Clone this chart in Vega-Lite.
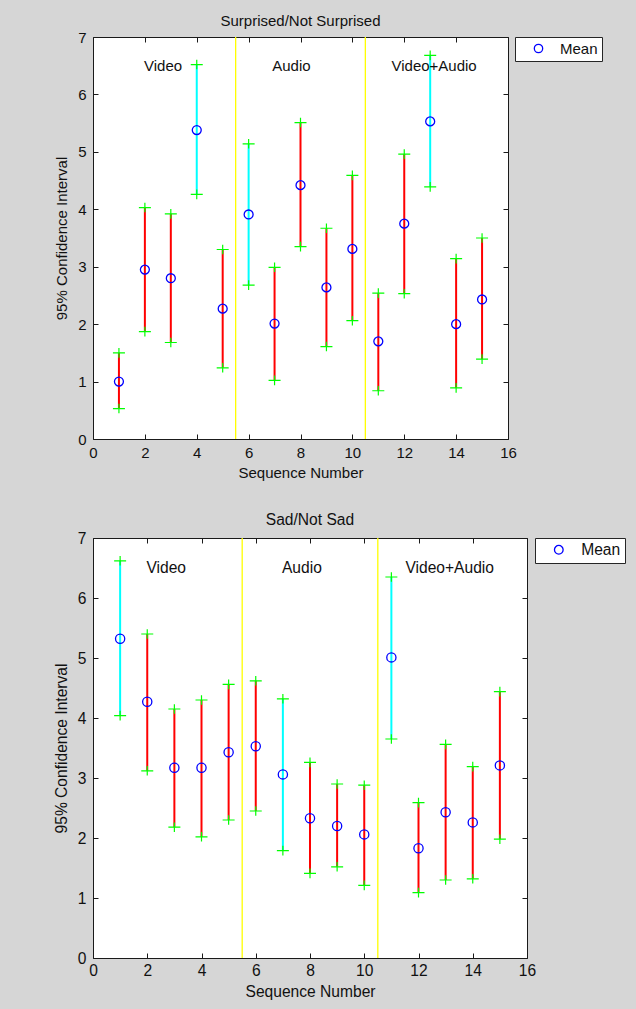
{
  "$schema": "https://vega.github.io/schema/vega-lite/v6.json",
  "background": "#d6d6d6",
  "padding": {"left": 53, "top": 13, "right": 15, "bottom": 20},
  "spacing": 31,
  "config": {
    "font": "Liberation Sans",
    "view": {"fill": "white", "stroke": "#1a1a1a", "strokeWidth": 1},
    "axis": {"labelColor": "#111111", "titleColor": "#111111", "titleFontWeight": "normal", "tickColor": "#1a1a1a", "grid": false},
    "title": {"fontWeight": "normal", "color": "#111111"},
    "legend": {"labelColor": "#111111"}
  },
  "datasets": {
    "surprised": [
      {"seq": 1, "mean": 1.00, "lo": 0.53, "hi": 1.50, "group": "normal"},
      {"seq": 2, "mean": 2.95, "lo": 1.87, "hi": 4.03, "group": "normal"},
      {"seq": 3, "mean": 2.80, "lo": 1.68, "hi": 3.92, "group": "normal"},
      {"seq": 4, "mean": 5.38, "lo": 4.26, "hi": 6.52, "group": "highlighted"},
      {"seq": 5, "mean": 2.27, "lo": 1.24, "hi": 3.30, "group": "normal"},
      {"seq": 6, "mean": 3.91, "lo": 2.68, "hi": 5.14, "group": "highlighted"},
      {"seq": 7, "mean": 2.01, "lo": 1.02, "hi": 2.99, "group": "normal"},
      {"seq": 8, "mean": 4.42, "lo": 3.35, "hi": 5.51, "group": "normal"},
      {"seq": 9, "mean": 2.64, "lo": 1.61, "hi": 3.67, "group": "normal"},
      {"seq": 10, "mean": 3.31, "lo": 2.06, "hi": 4.59, "group": "normal"},
      {"seq": 11, "mean": 1.70, "lo": 0.84, "hi": 2.54, "group": "normal"},
      {"seq": 12, "mean": 3.75, "lo": 2.53, "hi": 4.96, "group": "normal"},
      {"seq": 13, "mean": 5.53, "lo": 4.39, "hi": 6.68, "group": "highlighted"},
      {"seq": 14, "mean": 2.00, "lo": 0.89, "hi": 3.14, "group": "normal"},
      {"seq": 15, "mean": 2.43, "lo": 1.39, "hi": 3.50, "group": "normal"}
    ],
    "sad": [
      {"seq": 1, "mean": 5.32, "lo": 4.04, "hi": 6.62, "group": "highlighted"},
      {"seq": 2, "mean": 4.27, "lo": 3.12, "hi": 5.40, "group": "normal"},
      {"seq": 3, "mean": 3.17, "lo": 2.18, "hi": 4.15, "group": "normal"},
      {"seq": 4, "mean": 3.17, "lo": 2.02, "hi": 4.30, "group": "normal"},
      {"seq": 5, "mean": 3.43, "lo": 2.30, "hi": 4.56, "group": "normal"},
      {"seq": 6, "mean": 3.53, "lo": 2.45, "hi": 4.62, "group": "normal"},
      {"seq": 7, "mean": 3.06, "lo": 1.79, "hi": 4.32, "group": "highlighted"},
      {"seq": 8, "mean": 2.33, "lo": 1.41, "hi": 3.26, "group": "normal"},
      {"seq": 9, "mean": 2.20, "lo": 1.52, "hi": 2.90, "group": "normal"},
      {"seq": 10, "mean": 2.06, "lo": 1.21, "hi": 2.88, "group": "normal"},
      {"seq": 11, "mean": 5.01, "lo": 3.65, "hi": 6.35, "group": "highlighted"},
      {"seq": 12, "mean": 1.83, "lo": 1.09, "hi": 2.59, "group": "normal"},
      {"seq": 13, "mean": 2.43, "lo": 1.30, "hi": 3.56, "group": "normal"},
      {"seq": 14, "mean": 2.26, "lo": 1.32, "hi": 3.19, "group": "normal"},
      {"seq": 15, "mean": 3.21, "lo": 1.98, "hi": 4.44, "group": "normal"}
    ],
    "separators": [{"boundary": 5.5}, {"boundary": 10.5}],
    "labelsTop": [
      {"label": "Video", "xpos": 2.7, "ypos": 6.5},
      {"label": "Audio", "xpos": 7.65, "ypos": 6.5},
      {"label": "Video+Audio", "xpos": 13.15, "ypos": 6.5}
    ],
    "labelsBottom": [
      {"label": "Video", "xpos": 2.7, "ypos": 6.5},
      {"label": "Audio", "xpos": 7.7, "ypos": 6.5},
      {"label": "Video+Audio", "xpos": 13.15, "ypos": 6.5}
    ]
  },
  "resolve": {"scale": {"color": "independent", "stroke": "independent"}, "legend": {"color": "independent"}},
  "vconcat": [
    {
      "width": 415,
      "height": 402,
      "title": {"text": "Surprised/Not Surprised", "fontSize": 15, "offset": 1},
      "resolve": {"axis": {"x": "independent", "y": "independent"}},
      "layer": [
        {
          "data": {"name": "separators"},
          "mark": {"type": "rule", "color": "#ffff00", "strokeWidth": 1.3},
          "encoding": {
            "x": {"field": "boundary", "type": "quantitative", "scale": {"domain": [0, 16], "nice": false, "zero": false},
              "axis": {"orient": "bottom", "values": [0, 2, 4, 6, 8, 10, 12, 14, 16], "ticks": false, "domain": false, "labelPadding": 6.5, "labelFontSize": 15, "labelFlush": false, "labelBound": false, "labelOverlap": false, "title": "Sequence Number", "titleFontSize": 15, "titlePadding": 4.5}}
          }
        },
        {
          "data": {"name": "surprised"},
          "mark": {"type": "rule", "strokeWidth": 2},
          "encoding": {
            "x": {"field": "seq", "type": "quantitative", "scale": {"domain": [0, 16], "nice": false, "zero": false},
              "axis": {"orient": "top", "values": [0, 2, 4, 6, 8, 10, 12, 14, 16], "labels": false, "domain": false, "tickSize": -5, "title": null}},
            "y": {"field": "lo", "type": "quantitative", "scale": {"domain": [0, 7], "nice": false},
              "axis": {"orient": "left", "values": [0, 1, 2, 3, 4, 5, 6, 7], "ticks": false, "domain": false, "labelPadding": 7, "labelFontSize": 15, "title": "95% Confidence Interval", "titleFontSize": 15, "titlePadding": 8}},
            "y2": {"field": "hi"},
            "stroke": {"field": "group", "type": "nominal", "scale": {"domain": ["normal", "highlighted"], "range": ["#ff0000", "#00ffff"]}, "legend": null}
          }
        },
        {
          "data": {"name": "surprised"},
          "mark": {"type": "point", "shape": "M-1,0H1M0,-0.8V0.8", "filled": false, "size": 144, "strokeWidth": 1.2, "color": "#00ff00", "opacity": 1},
          "encoding": {
            "x": {"field": "seq", "type": "quantitative", "scale": {"domain": [0, 16], "nice": false, "zero": false},
              "axis": {"orient": "bottom", "values": [0, 2, 4, 6, 8, 10, 12, 14, 16], "labels": false, "domain": false, "tickSize": -5, "title": null}},
            "y": {"field": "hi", "type": "quantitative", "scale": {"domain": [0, 7], "nice": false},
              "axis": {"orient": "right", "values": [0, 1, 2, 3, 4, 5, 6, 7], "labels": false, "domain": false, "tickSize": -5, "title": null}}
          }
        },
        {
          "data": {"name": "surprised"},
          "mark": {"type": "point", "shape": "M-1,0H1M0,-0.8V0.8", "filled": false, "size": 144, "strokeWidth": 1.2, "color": "#00ff00", "opacity": 1},
          "encoding": {
            "x": {"field": "seq", "type": "quantitative", "scale": {"domain": [0, 16], "nice": false, "zero": false}, "axis": null},
            "y": {"field": "lo", "type": "quantitative", "scale": {"domain": [0, 7], "nice": false},
              "axis": {"orient": "left", "values": [0, 1, 2, 3, 4, 5, 6, 7], "labels": false, "domain": false, "tickSize": -5, "title": null}}
          }
        },
        {
          "data": {"name": "surprised"},
          "mark": {"type": "point", "shape": "circle", "filled": false, "size": 80, "strokeWidth": 1.3, "opacity": 1},
          "encoding": {
            "x": {"field": "seq", "type": "quantitative", "scale": {"domain": [0, 16], "nice": false, "zero": false}, "axis": null},
            "y": {"field": "mean", "type": "quantitative", "scale": {"domain": [0, 7], "nice": false}, "axis": null},
            "color": {"datum": "Mean", "scale": {"range": ["#0000ff"]},
              "legend": {"title": null, "orient": "right", "offset": 6, "strokeColor": "#262626", "fillColor": "white", "padding": 4, "labelFontSize": 15, "labelExpr": "datum.label + '\u00a0\u00a0\u00a0'", "symbolType": "circle", "symbolSize": 70, "symbolStrokeWidth": 1.3, "symbolOffset": 12, "labelOffset": 14}}
          }
        },
        {
          "data": {"name": "labelsTop"},
          "mark": {"type": "text", "fontSize": 15, "color": "#111111", "align": "center", "baseline": "middle"},
          "encoding": {
            "x": {"field": "xpos", "type": "quantitative", "scale": {"domain": [0, 16], "nice": false, "zero": false}, "axis": null},
            "y": {"field": "ypos", "type": "quantitative", "scale": {"domain": [0, 7], "nice": false}, "axis": null},
            "text": {"field": "label"}
          }
        }
      ]
    },
    {
      "width": 434,
      "height": 420,
      "title": {"text": "Sad/Not Sad", "fontSize": 15.6, "offset": 2},
      "resolve": {"axis": {"x": "independent", "y": "independent"}},
      "layer": [
        {
          "data": {"name": "separators"},
          "mark": {"type": "rule", "color": "#ffff00", "strokeWidth": 1.3},
          "encoding": {
            "x": {"field": "boundary", "type": "quantitative", "scale": {"domain": [0, 16], "nice": false, "zero": false},
              "axis": {"orient": "bottom", "values": [0, 2, 4, 6, 8, 10, 12, 14, 16], "ticks": false, "domain": false, "labelPadding": 5, "labelFontSize": 15.6, "labelFlush": false, "labelBound": false, "labelOverlap": false, "title": "Sequence Number", "titleFontSize": 15.6, "titlePadding": 6}}
          }
        },
        {
          "data": {"name": "sad"},
          "mark": {"type": "rule", "strokeWidth": 2},
          "encoding": {
            "x": {"field": "seq", "type": "quantitative", "scale": {"domain": [0, 16], "nice": false, "zero": false},
              "axis": {"orient": "top", "values": [0, 2, 4, 6, 8, 10, 12, 14, 16], "labels": false, "domain": false, "tickSize": -5, "title": null}},
            "y": {"field": "lo", "type": "quantitative", "scale": {"domain": [0, 7], "nice": false},
              "axis": {"orient": "left", "values": [0, 1, 2, 3, 4, 5, 6, 7], "ticks": false, "domain": false, "labelPadding": 7, "labelFontSize": 15.6, "title": "95% Confidence Interval", "titleFontSize": 15.6, "titlePadding": 8}},
            "y2": {"field": "hi"},
            "stroke": {"field": "group", "type": "nominal", "scale": {"domain": ["normal", "highlighted"], "range": ["#ff0000", "#00ffff"]}, "legend": null}
          }
        },
        {
          "data": {"name": "sad"},
          "mark": {"type": "point", "shape": "M-1,0H1M0,-0.8V0.8", "filled": false, "size": 144, "strokeWidth": 1.2, "color": "#00ff00", "opacity": 1},
          "encoding": {
            "x": {"field": "seq", "type": "quantitative", "scale": {"domain": [0, 16], "nice": false, "zero": false},
              "axis": {"orient": "bottom", "values": [0, 2, 4, 6, 8, 10, 12, 14, 16], "labels": false, "domain": false, "tickSize": -5, "title": null}},
            "y": {"field": "hi", "type": "quantitative", "scale": {"domain": [0, 7], "nice": false},
              "axis": {"orient": "right", "values": [0, 1, 2, 3, 4, 5, 6, 7], "labels": false, "domain": false, "tickSize": -5, "title": null}}
          }
        },
        {
          "data": {"name": "sad"},
          "mark": {"type": "point", "shape": "M-1,0H1M0,-0.8V0.8", "filled": false, "size": 144, "strokeWidth": 1.2, "color": "#00ff00", "opacity": 1},
          "encoding": {
            "x": {"field": "seq", "type": "quantitative", "scale": {"domain": [0, 16], "nice": false, "zero": false}, "axis": null},
            "y": {"field": "lo", "type": "quantitative", "scale": {"domain": [0, 7], "nice": false},
              "axis": {"orient": "left", "values": [0, 1, 2, 3, 4, 5, 6, 7], "labels": false, "domain": false, "tickSize": -5, "title": null}}
          }
        },
        {
          "data": {"name": "sad"},
          "mark": {"type": "point", "shape": "circle", "filled": false, "size": 85, "strokeWidth": 1.3, "opacity": 1},
          "encoding": {
            "x": {"field": "seq", "type": "quantitative", "scale": {"domain": [0, 16], "nice": false, "zero": false}, "axis": null},
            "y": {"field": "mean", "type": "quantitative", "scale": {"domain": [0, 7], "nice": false}, "axis": null},
            "color": {"datum": "Mean", "scale": {"range": ["#0000ff"]},
              "legend": {"title": null, "orient": "right", "offset": 7, "strokeColor": "#262626", "fillColor": "white", "padding": 4, "labelFontSize": 15.6, "labelExpr": "datum.label + '\u00a0\u00a0\u00a0'", "symbolType": "circle", "symbolSize": 75, "symbolStrokeWidth": 1.3, "symbolOffset": 12, "labelOffset": 14.6}}
          }
        },
        {
          "data": {"name": "labelsBottom"},
          "mark": {"type": "text", "fontSize": 15.6, "color": "#111111", "align": "center", "baseline": "middle"},
          "encoding": {
            "x": {"field": "xpos", "type": "quantitative", "scale": {"domain": [0, 16], "nice": false, "zero": false}, "axis": null},
            "y": {"field": "ypos", "type": "quantitative", "scale": {"domain": [0, 7], "nice": false}, "axis": null},
            "text": {"field": "label"}
          }
        }
      ]
    }
  ]
}
